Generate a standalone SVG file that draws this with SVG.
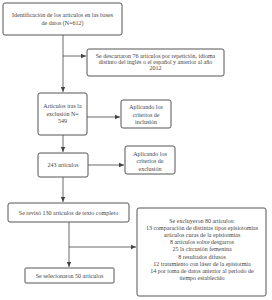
<svg xmlns="http://www.w3.org/2000/svg" width="272" height="300" viewBox="0 0 272 300">
<style>
.box{fill:#fff;stroke:#555;stroke-width:1}
.t{font-family:"Liberation Serif","Times New Roman",serif;font-size:6px;fill:#444;text-anchor:middle}
.c{stroke:#444;stroke-width:0.8;fill:none}
</style>
<defs>
<marker id="ah" markerWidth="6" markerHeight="6" refX="5" refY="3" orient="auto" markerUnits="userSpaceOnUse">
<path d="M0,0.8 L5,3 L0,5.2 z" fill="#444"/>
</marker>
</defs>
<rect width="272" height="300" fill="#fff"/>
<g id="connectors">
<path class="c" d="M63,35 V92" marker-end="url(#ah)"/>
<path class="c" d="M63,56 H86" marker-end="url(#ah)"/>
<path class="c" d="M87,117 H120" marker-end="url(#ah)"/>
<path class="c" d="M63,135 V152" marker-end="url(#ah)"/>
<path class="c" d="M88,165 H124" marker-end="url(#ah)"/>
<path class="c" d="M63,177 V202" marker-end="url(#ah)"/>
<path class="c" d="M69,222 V267" marker-end="url(#ah)"/>
<path class="c" d="M69,247 H136" marker-end="url(#ah)"/>
</g>
<g id="n1">
<rect class="box" x="3" y="3" width="119" height="32" rx="2"/>
<text class="t" x="62.5" y="17">Identificación de los artículos en las bases</text>
<text class="t" x="62.5" y="25">de datos  (N=612)</text>
</g>
<g id="n2">
<rect class="box" x="87" y="49" width="137" height="27" rx="2"/>
<text class="t" x="155.5" y="57.5">Se descartaron 76 artículos por repetición, idioma</text>
<text class="t" x="155.5" y="63.5">distinto del inglés o el español y anterior al año</text>
<text class="t" x="155.5" y="69.5">2012</text>
</g>
<g id="n3">
<rect class="box" x="38" y="93" width="49" height="42" rx="2"/>
<text class="t" x="62.5" y="108">Artículos tras la</text>
<text class="t" x="62.5" y="116">exclusión N=</text>
<text class="t" x="62.5" y="123">549</text>
</g>
<g id="n4">
<rect class="box" x="121" y="100" width="50" height="28" rx="2"/>
<text class="t" x="146" y="109">Aplicando los</text>
<text class="t" x="146" y="116.5">criterios de</text>
<text class="t" x="146" y="124">inclusión</text>
</g>
<g id="n5">
<rect class="box" x="38" y="153" width="50" height="24" rx="2"/>
<text class="t" x="63" y="167">243 artículos</text>
</g>
<g id="n6">
<rect class="box" x="125" y="146" width="50" height="28" rx="2"/>
<text class="t" x="150" y="155.5">Aplicando los</text>
<text class="t" x="150" y="163">criterios de</text>
<text class="t" x="150" y="170.5">exclusión</text>
</g>
<g id="n7">
<rect class="box" x="8" y="203" width="121" height="19" rx="2"/>
<text class="t" x="68.5" y="215">Se revisó 130 artículos de texto completo</text>
</g>
<g id="n8">
<rect class="box" x="137" y="208" width="129" height="88" rx="2"/>
<text class="t" x="202" y="222.5">Se excluyeron 80 artículos:</text>
<text class="t" x="202" y="229.7">13 comparación de distintas tipos  episiotomías</text>
<text class="t" x="202" y="236.9">artículos curas de la episiotmías</text>
<text class="t" x="202" y="244.1">8 artículos sobre desgarros</text>
<text class="t" x="202" y="251.3">25 la circusión femenina</text>
<text class="t" x="202" y="258.5">8 resultados difusos</text>
<text class="t" x="202" y="265.7">12 tratamiento con láser de la episiotmía</text>
<text class="t" x="202" y="272.9">14 por toma de datos anterior al periodo de</text>
<text class="t" x="202" y="280.1">tiempo establecido</text>
</g>
<g id="n9">
<rect class="box" x="25" y="268" width="89" height="15" rx="1"/>
<text class="t" x="69.5" y="277.5">Se selecionaron 50 artículos</text>
</g>
</svg>
